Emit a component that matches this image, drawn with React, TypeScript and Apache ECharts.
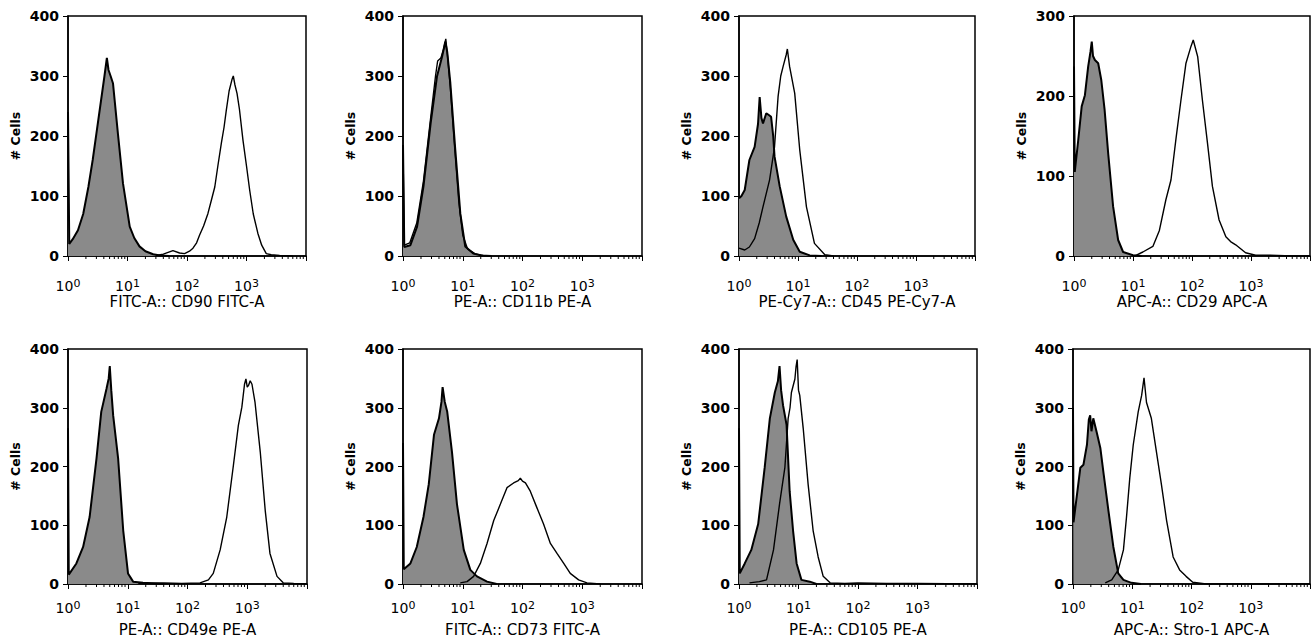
import React, { useEffect, useRef } from "react";
import * as echarts from "echarts";

// ---------- data: [fluorescence intensity, # cells] ----------
const PANEL_NAMES = [
  "FITC-A:: CD90 FITC-A",
  "PE-A:: CD11b PE-A",
  "PE-Cy7-A:: CD45 PE-Cy7-A",
  "APC-A:: CD29 APC-A",
  "PE-A:: CD49e PE-A",
  "FITC-A:: CD73 FITC-A",
  "PE-A:: CD105 PE-A",
  "APC-A:: Stro-1 APC-A",
];
const Y_MAX = [400, 400, 400, 300, 400, 400, 400, 400];
const X_TICKS = [1, 10, 100, 1000, 10000];
const MINOR_TICKS = [
  2, 3, 4, 5, 6, 7, 8, 9,
  20, 30, 40, 50, 60, 70, 80, 90,
  200, 300, 400, 500, 600, 700, 800, 900,
  2000, 3000, 4000, 5000, 6000, 7000, 8000, 9000,
];

// isotype controls (grey filled)
const ISO_CD90 = [[1,240],[1.05,20],[1.2,28],[1.47,43],[1.8,70],[2.2,115],[2.6,160],[3.0,204],[3.6,260],[4.1,300],[4.5,330],[4.8,310],[5.2,300],[5.7,288],[6.9,204],[8.4,121],[10.9,49],[13,30],[15.9,16],[20,8],[27,3],[35,1],[50,0]];
const ISO_CD11B = [[1,185],[1.05,15],[1.33,18],[1.72,49],[2.2,116],[2.9,221],[3.7,299],[4.5,332],[5.1,357],[5.5,340],[6.2,288],[7.5,177],[9.1,71],[11,16],[15,4],[20,1],[30,0]];
const ISO_CD45 = [[1,96],[1.1,100],[1.25,110],[1.5,160],[1.84,182],[2.1,220],[2.24,265],[2.4,230],[2.55,221],[2.9,238],[3.2,235],[3.5,232],[3.8,200],[4.0,166],[4.9,116],[6.3,66],[8.3,27],[10.7,7],[15.8,1],[25,0]];
const ISO_CD29 = [[1,237],[1.03,105],[1.18,145],[1.35,187],[1.53,201],[1.74,237],[1.9,255],[2.0,268],[2.1,250],[2.26,245],[2.57,241],[2.9,220],[3.3,183],[3.8,128],[4.6,62],[5.6,20],[6.8,5],[10,1],[14,0]];
const ISO_CD49E = [[1,265],[1.03,16],[1.38,35],[1.79,63],[2.3,114],[3.0,214],[3.6,293],[4.4,332],[4.8,350],[5.0,371],[5.3,330],[5.7,287],[6.9,214],[8.4,91],[10.1,18],[12.3,4],[18,2],[30,1],[40,0]];
const ISO_CD73 = [[1,240],[1.03,25],[1.33,35],[1.7,63],[2.2,114],[2.7,170],[3.3,254],[4.0,282],[4.4,310],[4.6,335],[5.0,310],[5.5,293],[6.6,225],[8.0,136],[10.4,58],[13.4,24],[17.3,13],[25.5,4],[37,0]];
const ISO_CD105 = [[1,265],[1.03,18],[1.25,35],[1.61,58],[2.1,102],[2.7,198],[3.3,282],[4.0,326],[4.5,345],[4.8,371],[5.1,330],[5.5,304],[6.3,271],[7.1,158],[8.1,91],[9.3,35],[11.2,7],[15.5,4],[20,0]];
const ISO_STRO1 = [[1,300],[1.02,105],[1.17,153],[1.33,198],[1.5,203],[1.72,237],[1.85,280],[1.95,287],[2.05,260],[2.2,282],[2.5,259],[2.9,231],[3.3,186],[3.96,125],[4.8,63],[5.8,18],[7.1,7],[9.7,2],[14,0]];

// marker-stained samples (open)
const POS_CD90 = [[30,1],[40,3],[58,9],[75,5],[91,4],[110,8],[126,13],[145,22],[163,35],[190,50],[225,71],[260,95],[293,115],[330,150],[378,188],[420,215],[458,243],[510,275],[570,294],[600,300],[640,285],[693,271],[760,245],[872,193],[1000,150],[1130,110],[1300,70],[1550,38],[1800,18],[2150,4],[2600,2],[3600,1],[6000,0]];
const POS_CD11B = [[1,180],[1.05,18],[1.3,22],[1.7,55],[2.2,125],[2.9,230],[3.5,300],[3.8,325],[4.3,330],[4.8,345],[5.2,362],[5.6,330],[6.2,280],[7.2,190],[8.6,90],[10,35],[12,12],[16,4],[22,1],[30,0]];
const POS_CD45 = [[1,13],[1.25,10],[1.5,15],[1.84,29],[2.2,55],[2.55,82],[3.3,127],[4.0,182],[4.6,266],[5.1,300],[5.6,316],[6.3,335],[6.6,345],[7.2,316],[8.8,271],[10.7,177],[13.9,82],[19,21],[28.5,2],[40,0]];
const POS_CD29 = [[10,0],[11.4,1],[14.7,5],[21.7,12],[28,32],[36,70],[44,95],[54,149],[65,195],[79,241],[96,262],[105,270],[125,249],[150,195],[183,141],[222,87],[288,45],[375,24],[450,18],[550,14],[810,4],[1200,1],[2000,1],[5000,0],[10000,0]];
const POS_CD49E = [[15,1],[40,2],[80,1],[162,2],[224,7],[270,18],[352,58],[454,114],[588,203],[710,270],[812,301],[900,340],[950,349],[1000,335],[1050,338],[1120,346],[1200,340],[1350,309],[1650,225],[2000,125],[2400,52],[3150,13],[4000,2],[6000,1],[10000,0]];
const POS_CD73 = [[9.1,2],[11.8,4],[15.2,13],[19.7,35],[25.5,69],[33,108],[42.7,136],[55,164],[71,172],[85,176],[92,180],[100,175],[112,172],[135,158],[174,130],[225,102],[293,69],[378,52],[490,35],[630,18],[870,7],[1200,2],[2000,0]];
const POS_CD105 = [[1.5,2],[2.2,4],[2.9,7],[3.8,58],[4.8,136],[5.9,198],[6.7,282],[7.2,300],[7.6,326],[8.7,349],[9.1,370],[9.5,382],[10,330],[10.5,321],[12,265],[14.5,170],[17.6,91],[21.4,46],[26,13],[34,2],[60,1],[100,2],[300,1],[1000,1],[10000,0]];
const POS_STRO1 = [[3.5,2],[4.5,7],[5.8,24],[7.1,58],[8.0,114],[9.1,181],[10.4,237],[12.6,293],[14.4,321],[15.8,351],[17.4,309],[21,282],[25.6,225],[31,170],[38,108],[49,46],[63,24],[81,13],[105,3],[176,0],[10000,0]];

const ISO = [ISO_CD90, ISO_CD11B, ISO_CD45, ISO_CD29, ISO_CD49E, ISO_CD73, ISO_CD105, ISO_STRO1];
const POS = [POS_CD90, POS_CD11B, POS_CD45, POS_CD29, POS_CD49E, POS_CD73, POS_CD105, POS_STRO1];

// ---------- layout ----------
const GRIDS = [
  { left: 68, top: 16, width: 238, height: 240 },
  { left: 403, top: 16, width: 239, height: 240 },
  { left: 739, top: 16, width: 236, height: 240 },
  { left: 1074, top: 16, width: 237, height: 240 },
  { left: 68, top: 349, width: 239, height: 239 },
  { left: 403, top: 349, width: 239, height: 239 },
  { left: 739, top: 349, width: 238, height: 239 },
  { left: 1073, top: 349, width: 238, height: 239 },
];
const LABEL_MARGIN = [22, 22, 22, 22, 16, 16, 16, 16];

const FONT = "DejaVu Sans";
const FILL = "#8a8a8a";

function buildOption() {
  const grid: any[] = [];
  const xAxis: any[] = [];
  const yAxis: any[] = [];
  const series: any[] = [];
  GRIDS.forEach((g, i) => {
    grid.push({ ...g, show: true, borderColor: "#000", borderWidth: 1.5, backgroundColor: "#fff" });
    xAxis.push({
      type: "log",
      logBase: 10,
      gridIndex: i,
      min: X_TICKS[0],
      max: X_TICKS[X_TICKS.length - 1],
      name: PANEL_NAMES[i],
      nameLocation: "middle",
      nameGap: 38,
      nameTextStyle: { fontFamily: FONT, fontSize: 15, color: "#000" },
      axisLine: { show: true, lineStyle: { color: "#000", width: 1.5 } },
      axisTick: { show: true, length: 5, lineStyle: { color: "#000", width: 1 } },
      splitLine: { show: false },
      minorTick: { show: false },
      axisLabel: {
        margin: LABEL_MARGIN[i],
        showMaxLabel: true,
        formatter: (v: number) => {
          const e = Math.round(Math.log10(v));
          if (e > 3) return "";
          return `{b|10}{s|${e}}`;
        },
        rich: {
          b: { fontFamily: FONT, fontSize: 14, color: "#000", lineHeight: 16 },
          s: { fontFamily: FONT, fontSize: 11, color: "#000", lineHeight: 12, verticalAlign: "top" },
        },
      },
    });
    yAxis.push({
      type: "value",
      gridIndex: i,
      min: 0,
      max: Y_MAX[i],
      interval: 100,
      name: "# Cells",
      nameLocation: "middle",
      nameGap: 46,
      nameTextStyle: { fontFamily: FONT, fontSize: 12.5, fontWeight: "bold", color: "#000" },
      axisLine: { show: true, lineStyle: { color: "#000", width: 1.5 } },
      axisTick: { show: true, length: 5, lineStyle: { color: "#000", width: 1 } },
      splitLine: { show: false },
      axisLabel: { margin: 9, fontFamily: FONT, fontSize: 14, fontWeight: "bold", color: "#000" },
    });
    series.push({
      type: "line",
      xAxisIndex: i,
      yAxisIndex: i,
      data: ISO[i],
      showSymbol: false,
      symbol: "none",
      lineStyle: { color: "#000", width: 2 },
      areaStyle: { color: FILL, opacity: 1 },
      z: 2,
    });
    series.push({
      type: "line",
      xAxisIndex: i,
      yAxisIndex: i,
      data: POS[i],
      showSymbol: false,
      symbol: "none",
      lineStyle: { color: "#000", width: 1.4 },
      z: 3,
    });
    series.push({
      type: "custom",
      xAxisIndex: i,
      yAxisIndex: i,
      clip: false,
      data: MINOR_TICKS.map((v) => [v, 0]),
      renderItem: (params: any, api: any) => {
        const p = api.coord([api.value(0), 0]);
        return {
          type: "line",
          shape: { x1: p[0], y1: p[1], x2: p[0], y2: p[1] + 3 },
          style: { stroke: "#000", lineWidth: 1 },
        };
      },
      z: 4,
      silent: true,
    });
  });
  return {
    animation: false,
    backgroundColor: "#fff",
    grid,
    xAxis,
    yAxis,
    series,
  };
}

export default function App() {
  const ref = useRef<HTMLDivElement>(null);
  useEffect(() => {
    if (!ref.current) return;
    const chart = echarts.init(ref.current, undefined, { renderer: "svg" });
    chart.setOption(buildOption());
    return () => chart.dispose();
  }, []);
  return (
    <div
      ref={ref}
      style={{ position: "fixed", left: 0, top: 0, width: 1313, height: 638, background: "#fff" }}
    />
  );
}
